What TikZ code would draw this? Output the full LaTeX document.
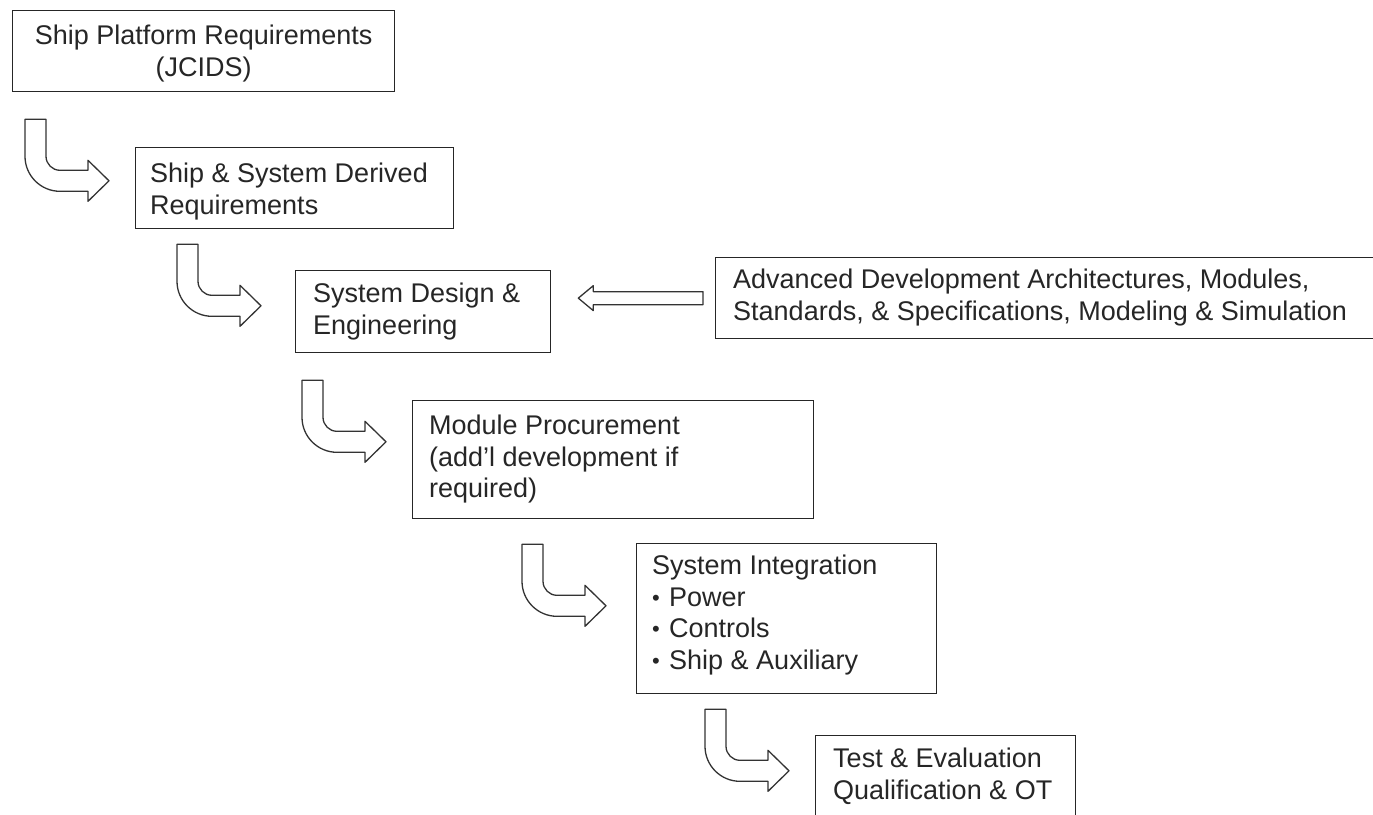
\documentclass[tikz,border=0pt]{standalone}
\usepackage{fontspec}
\setmainfont{Liberation Sans}
\usetikzlibrary{calc}

\tikzset{
  box/.style={draw=black!85, line width=1.3pt, fill=white, rectangle,
              anchor=north west, inner sep=0pt},
  txt/.style={anchor=north west, inner sep=0pt, align=left, text=black!85,
              font=\fontsize{27}{31.5}\selectfont},
  blk/.style={draw=black!80, line width=1.3pt, fill=white, line join=round},
  % downward stem bending right into a block arrow
  bentarrow/.pic={
    \draw[blk] (0,0) -- (21,0) -- (21,37)
      .. controls (21,44.7) and (27.3,51) .. (35,51)
      -- (63,51) -- (63,41) -- (84,61.5) -- (63,82) -- (63,72) -- (35,72)
      .. controls (15.7,72) and (0,56.3) .. (0,37) -- cycle;
  }
}
% bullet item marker inside a text line
\newcommand{\itemdot}{\makebox[17pt][l]{\fontsize{22}{22}\selectfont\raisebox{1pt}{•}}}

\begin{document}
\begin{tikzpicture}[x=1pt, y=-1pt]
\useasboundingbox (0,0) rectangle (1373,814);
\clip (0,0) rectangle (1373,814);

% process boxes
\node[box, minimum width=382, minimum height=81] (b1) at (12,10) {};
\node[box, minimum width=318, minimum height=81] (b2) at (135,147) {};
\node[box, minimum width=255, minimum height=82] (b3) at (295,270) {};
\node[box, minimum width=670, minimum height=81] (b4) at (715,257) {};
\node[box, minimum width=401, minimum height=118] (b5) at (412,400) {};
\node[box, minimum width=300, minimum height=150] (b6) at (636,543) {};
\node[box, minimum width=260, minimum height=105] (b7) at (815,735) {};

% box texts
\node[txt, anchor=north, align=center] (t1) at ($(b1.north)+(0,15)$)
  {Ship Platform Requirements\\(JCIDS)};
\node[txt] (t2) at ($(b2.north west)+(15,16)$)
  {Ship \& System Derived\\Requirements};
\node[txt] (t3) at ($(b3.north west)+(18,13)$)
  {System Design \&\\Engineering};
\node[txt] (t4) at ($(b4.north west)+(18,12)$)
  {Advanced Development Architectures, Modules,\\Standards, \& Specifications, Modeling \& Simulation};
\node[txt] (t5) at ($(b5.north west)+(17,15)$)
  {Module Procurement\\(add'l development if\\required)};
\node[txt] (t6) at ($(b6.north west)+(16,12)$)
  {System Integration\\
   \itemdot Power\\
   \itemdot Controls\\
   \itemdot Ship \& Auxiliary};
\node[txt] (t7) at ($(b7.north west)+(18,13)$)
  {Test \& Evaluation\\Qualification \& OT};

% bent block arrows between successive stages
\pic at ($(b1.south west)+(13,27)$) {bentarrow};
\pic at ($(b2.south west)+(42,15)$) {bentarrow};
\pic at ($(b3.south west)+(7,27)$) {bentarrow};
\pic at ($(b5.south west)+(110,25)$) {bentarrow};
\pic at ($(b6.south west)+(69,15)$) {bentarrow};

% block arrow feeding the design box from the right
\coordinate (la-tail) at ($(b4.west)+(-12,0)$);
\coordinate (la-tip) at ($(b3.east |- b4.west)+(27,0)$);
\draw[blk] (la-tip) -- ++(15,-12.5) -- ++(0,6)
  -- ($(la-tail)+(0,-6.5)$) -- ($(la-tail)+(0,6.5)$)
  -- ($(la-tip)+(15,6.5)$) -- ++(0,6) -- cycle;
\end{tikzpicture}
\end{document}
